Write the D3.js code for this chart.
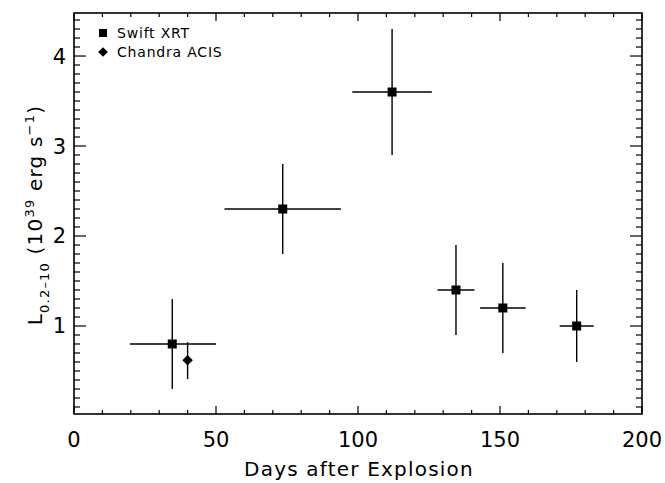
<!DOCTYPE html>
<html>
<head>
<meta charset="utf-8">
<script src="https://cdn.jsdelivr.net/npm/d3@7"></script>
<style>
  body { margin: 0; background: #fff; }
  svg text { font-family: "DejaVu Sans", "Liberation Sans", sans-serif; fill: #000; }
</style>
</head>
<body>
<script>
// Swift XRT points: day, day range, luminosity, error
const xrtDay = [34.6, 73.5, 112, 134.5, 151, 177];
const xrtDayLo = [19.7, 53, 98, 128, 143, 171];
const xrtDayHi = [50, 94, 126, 141, 159, 183];
const xrtLum = [0.8, 2.3, 3.6, 1.4, 1.2, 1.0];
const xrtErr = [0.5, 0.5, 0.7, 0.5, 0.5, 0.4];

// Chandra ACIS point
const acisDay = [40];
const acisLum = [0.62];
const acisErrLo = [0.21];
const acisErrHi = [0.2];

const xTicks = [0, 50, 100, 150, 200];
const yTicks = [1, 2, 3, 4];
const legendNames = ["Swift XRT", "Chandra ACIS"];

const width = 665;
const height = 483;
const pLeft = 74, pRight = 642, pTop = 13, pBottom = 414;

const svg = d3.select("body").append("svg")
  .attr("width", width)
  .attr("height", height);

const x = d3.scaleLinear().domain([0, 200]).range([pLeft, pRight]);
const y = d3.scaleLinear().domain([0.022, 4.478]).range([pBottom, pTop]);

const minorX = d3.range(0, 201, 10);
const minorY = d3.range(1, 45).map(d => d / 10);

// frame
svg.append("rect")
  .attr("x", pLeft).attr("y", pTop)
  .attr("width", pRight - pLeft).attr("height", pBottom - pTop)
  .attr("fill", "none").attr("stroke", "#000").attr("stroke-width", 1.6);

// ticks on all four sides, pointing inward
const ticks = svg.append("g").attr("stroke", "#000").attr("stroke-width", 1.2);
minorX.forEach(d => {
  const len = d % 50 === 0 ? 8 : 4;
  ticks.append("line").attr("x1", x(d)).attr("x2", x(d)).attr("y1", pBottom).attr("y2", pBottom - len);
  ticks.append("line").attr("x1", x(d)).attr("x2", x(d)).attr("y1", pTop).attr("y2", pTop + len);
});
minorY.forEach(d => {
  const len = Math.abs(d - Math.round(d)) < 1e-6 ? 12 : 6;
  ticks.append("line").attr("x1", pLeft).attr("x2", pLeft + len).attr("y1", y(d)).attr("y2", y(d));
  ticks.append("line").attr("x1", pRight).attr("x2", pRight - len).attr("y1", y(d)).attr("y2", y(d));
});

// tick labels
svg.append("g").selectAll("text").data(xTicks).join("text")
  .attr("x", d => x(d)).attr("y", 447)
  .attr("text-anchor", "middle")
  .style("font-size", "21px")
  .text(d => d);

svg.append("g").selectAll("text").data(yTicks).join("text")
  .attr("x", 66).attr("y", d => y(d) + 7.5)
  .attr("text-anchor", "end")
  .style("font-size", "21px")
  .text(d => d);

// axis titles
svg.append("text")
  .attr("x", (pLeft + pRight) / 2 + 1).attr("y", 476)
  .attr("text-anchor", "middle")
  .style("font-size", "20px")
  .style("letter-spacing", "1.2px")
  .text("Days after Explosion");

const yt = svg.append("text")
  .attr("transform", "translate(42,215) rotate(-90)")
  .attr("text-anchor", "middle")
  .style("font-size", "20px")
  .style("letter-spacing", "1.2px");
yt.append("tspan").text("L");
yt.append("tspan").attr("dy", 7).style("font-size", "13px").text("0.2\u201310");
yt.append("tspan").attr("dy", -7).text(" (10");
yt.append("tspan").attr("dy", -8).style("font-size", "13px").text("39");
yt.append("tspan").attr("dy", 8).text(" erg s");
yt.append("tspan").attr("dy", -8).style("font-size", "13px").text("\u22121");
yt.append("tspan").attr("dy", 8).text(")");

// Swift XRT error bars and markers
const xrt = xrtDay.map((d, i) => ({day: d, lo: xrtDayLo[i], hi: xrtDayHi[i], lum: xrtLum[i], err: xrtErr[i]}));
const gx = svg.append("g").attr("stroke", "#000").attr("stroke-width", 1.4);
gx.selectAll(".h").data(xrt).join("line").attr("class", "h")
  .attr("x1", d => x(d.lo)).attr("x2", d => x(d.hi))
  .attr("y1", d => y(d.lum)).attr("y2", d => y(d.lum));
gx.selectAll(".v").data(xrt).join("line").attr("class", "v")
  .attr("x1", d => x(d.day)).attr("x2", d => x(d.day))
  .attr("y1", d => y(d.lum - d.err)).attr("y2", d => y(d.lum + d.err));
svg.append("g").selectAll("rect").data(xrt).join("rect")
  .attr("x", d => x(d.day) - 4.5).attr("y", d => y(d.lum) - 4.5)
  .attr("width", 9).attr("height", 9).attr("fill", "#000");

// Chandra ACIS
const acis = acisDay.map((d, i) => ({day: d, lum: acisLum[i], lo: acisErrLo[i], hi: acisErrHi[i]}));
svg.append("g").selectAll("line").data(acis).join("line")
  .attr("x1", d => x(d.day)).attr("x2", d => x(d.day))
  .attr("y1", d => y(d.lum - d.lo)).attr("y2", d => y(d.lum + d.hi))
  .attr("stroke", "#000").attr("stroke-width", 1.4);
const diamond = d3.symbol().type(d3.symbolDiamond2).size(70);
svg.append("g").selectAll("path").data(acis).join("path")
  .attr("transform", d => `translate(${x(d.day)},${y(d.lum)})`)
  .attr("d", diamond).attr("fill", "#000");

// legend
const legend = svg.append("g").attr("id", "legend");
legend.append("rect").attr("x", 99).attr("y", 29).attr("width", 8).attr("height", 8).attr("fill", "#000");
legend.append("path")
  .attr("transform", "translate(103,52)")
  .attr("d", d3.symbol().type(d3.symbolDiamond2).size(60)).attr("fill", "#000");
legend.selectAll("text").data(legendNames).join("text")
  .attr("x", 117).attr("y", (d, i) => 38 + i * 19)
  .style("font-size", "14px")
  .style("letter-spacing", "0.8px")
  .text(d => d);
</script>
</body>
</html>
